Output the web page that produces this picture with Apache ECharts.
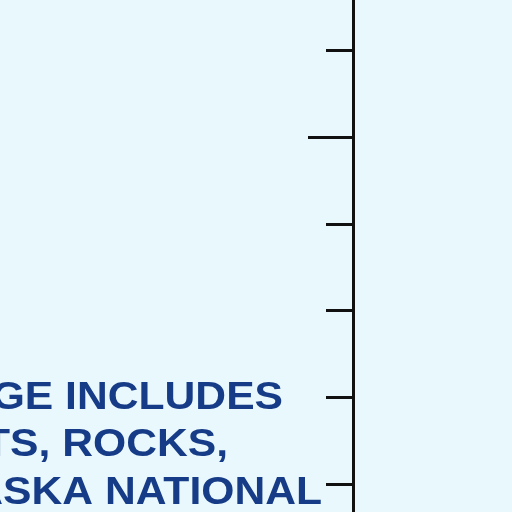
<!DOCTYPE html>
<html>
<head>
<meta charset="utf-8">
<script src="https://cdn.jsdelivr.net/npm/echarts@6/dist/echarts.min.js"></script>
<style>
html,body{margin:0;padding:0;background:#e8f8fc;overflow:hidden;width:512px;height:512px;position:relative;}
#c{width:512px;height:868px;position:absolute;left:0;top:-297px;}
#t{width:512px;height:512px;position:absolute;left:0;top:0;}
</style>
</head>
<body>
<div id="c"></div>
<div id="t"></div>
<script>
// Data (visible portion of the chart)
var axisMin = 0;
var axisMax = 20;
var axisInterval = 10;
var minorSplits = 5;
var noteLines = ['GE INCLUDES', 'TS, ROCKS,', 'ASKA NATIONAL'];
var seriesValues = [];

var chart = echarts.init(document.getElementById('c'), null, {renderer: 'canvas'});
chart.setOption({
  backgroundColor: '#e8f8fc',
  animation: false,
  grid: {left: 353, right: 0, top: 0, bottom: 0, containLabel: false},
  xAxis: {type: 'value', show: false, min: 0, max: 1},
  yAxis: {
    type: 'value',
    position: 'left',
    min: axisMin, max: axisMax, interval: axisInterval,
    axisLine: {show: true, lineStyle: {color: '#111', width: 3}},
    axisTick: {show: true, inside: false, length: 45, lineStyle: {color: '#111', width: 3}},
    minorTick: {show: true, splitNumber: minorSplits, length: 27, lineStyle: {color: '#111', width: 3}},
    axisLabel: {show: false},
    splitLine: {show: false},
    minorSplitLine: {show: false}
  },
  series: [{type: 'line', data: seriesValues, symbol: 'none'}]
});

var textChart = echarts.init(document.getElementById('t'), null, {renderer: 'canvas'});
var lineRight = [283, 228, 322];
var lineBase = [418, 465, 513];
textChart.setOption({
  animation: false,
  graphic: noteLines.map(function (t, i) {
    return {
      type: 'text',
      x: lineRight[i],
      y: lineBase[i],
      scaleX: 1.093,
      scaleY: 1,
      silent: true,
      style: {
        text: t,
        x: 0, y: 0,
        textAlign: 'right',
        textVerticalAlign: 'bottom',
        font: 'bold 39px "Liberation Sans", Arial, sans-serif',
        fill: '#173c87'
      }
    };
  })
});
</script>
</body>
</html>
